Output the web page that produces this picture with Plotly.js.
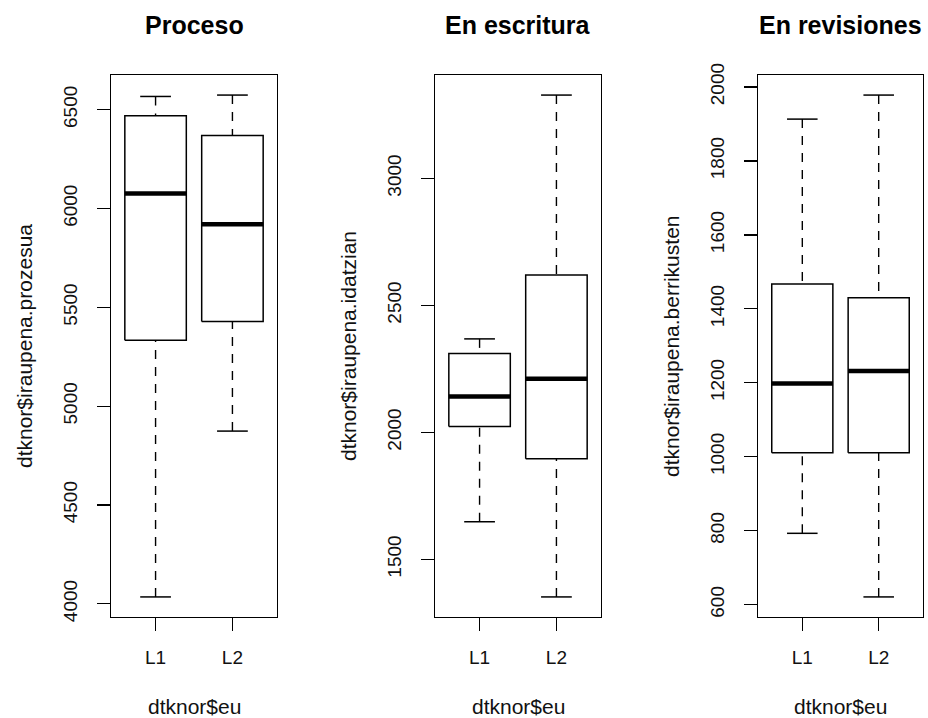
<!DOCTYPE html>
<html>
<head>
<meta charset="utf-8">
<script src="https://cdn.plot.ly/plotly-3.0.1.min.js"></script>
<style>html,body{margin:0;padding:0;background:#fff;}</style>
</head>
<body>
<div id="chart" style="width:928px;height:718px;"></div>
<script>
// ---- data ----
const groups = ["L1", "L2"];
const panelTitles = ["Proceso", "En escritura", "En revisiones"];
const yLabels = ["dtknor$iraupena.prozesua", "dtknor$iraupena.idatzian", "dtknor$iraupena.berrikusten"];
const xLabel = "dtknor$eu";

// five-number summaries per panel: [L1, L2]
const lowWhisker = [[4035, 4874], [1648, 1352], [793, 621]];
const q1Values   = [[5334, 5428], [2023, 1896], [1011, 1011]];
const medians    = [[6076, 5921], [2141, 2211], [1198, 1232]];
const q3Values   = [[6469, 6370], [2310, 2620], [1467, 1430]];
const highWhisker= [[6567, 6574], [2368, 3328], [1913, 1978]];

const yTicks = [
  [4000, 4500, 5000, 5500, 6000, 6500],
  [1500, 2000, 2500, 3000],
  [600, 800, 1000, 1200, 1400, 1600, 1800, 2000]
];

// ---- layout geometry ----
const W = 928, H = 718;
const frames = [[111, 277], [435, 601], [758, 923]];
const frameTop = 75, frameBottom = 617;
const FONT = "Liberation Sans, Arial, sans-serif";
const half = 0.4, staple = 0.2;

const traces = [];
const layout = {
  width: W, height: H,
  margin: {l: 0, r: 0, t: 0, b: 0},
  paper_bgcolor: "#fff", plot_bgcolor: "#fff",
  showlegend: false,
  annotations: [],
  font: {family: FONT, color: "#000"}
};

for (let p = 0; p < 3; p++) {
  const sfx = p === 0 ? "" : String(p + 1);
  const xa = "x" + sfx, ya = "y" + sfx;
  const bx = [], by = [], mx = [], my = [], wx = [], wy = [];
  groups.forEach((g, j) => {
    const c = j + 1;
    const lo = lowWhisker[p][j], a = q1Values[p][j], m = medians[p][j], b = q3Values[p][j], hi = highWhisker[p][j];
    // box
    bx.push(c - half, c + half, c + half, c - half, c - half, null);
    by.push(a, a, b, b, a, null);
    // staples
    bx.push(c - staple, c + staple, null, c - staple, c + staple, null);
    by.push(hi, hi, null, lo, lo, null);
    // median
    mx.push(c - half, c + half, null);
    my.push(m, m, null);
    // whiskers (from ends toward box)
    wx.push(c, c, null, c, c, null);
    wy.push(hi, b, null, lo, a, null);
  });
  traces.push({x: wx, y: wy, xaxis: xa, yaxis: ya, type: "scatter", mode: "lines",
    line: {color: "#000", width: 1.4, dash: "9px,8px"}, hoverinfo: "skip"});
  traces.push({x: bx, y: by, xaxis: xa, yaxis: ya, type: "scatter", mode: "lines",
    line: {color: "#000", width: 1.5}, hoverinfo: "skip"});
  traces.push({x: mx, y: my, xaxis: xa, yaxis: ya, type: "scatter", mode: "lines",
    line: {color: "#000", width: 4.5}, hoverinfo: "skip"});

  // R-style 4% range expansion
  const allLo = Math.min(...lowWhisker[p]), allHi = Math.max(...highWhisker[p]);
  const R = allHi - allLo;
  const yr = [allLo - 0.04 * R, allHi + 0.04 * R];
  const xr = [0.5 - 0.08, 2.5 + 0.08];

  const dom = [frames[p][0] / W, frames[p][1] / W];
  const ydom = [(H - frameBottom) / H, (H - frameTop) / H];

  layout["xaxis" + sfx] = {
    domain: dom, anchor: ya, range: xr, fixedrange: true,
    tickmode: "array", tickvals: [1, 2], ticktext: groups,
    ticks: "outside", ticklen: 13, tickwidth: 1.3, tickcolor: "#000",
    showline: true, linecolor: "#000", linewidth: 1.3, mirror: true,
    showgrid: false, zeroline: false,
    tickfont: {family: FONT, size: 19, color: "#111"},
    ticklabelstandoff: 10
  };
  layout["yaxis" + sfx] = {
    domain: ydom, anchor: xa, range: yr, fixedrange: true,
    tickmode: "array", tickvals: yTicks[p], ticktext: yTicks[p].map(String),
    ticks: "outside", ticklen: 13, tickwidth: 1.3, tickcolor: "#000",
    showline: true, linecolor: "#000", linewidth: 1.3, mirror: true,
    showgrid: false, zeroline: false, tickangle: -90,
    tickfont: {family: FONT, size: 19, color: "#111"},
    ticklabelstandoff: 12
  };

  const cx = (frames[p][0] + frames[p][1]) / 2 / W;
  layout.annotations.push({
    text: "<b>" + panelTitles[p] + "</b>", xref: "paper", yref: "paper",
    x: cx, y: (H - 25) / H, xanchor: "center", yanchor: "middle", showarrow: false,
    font: {family: FONT, size: 25, color: "#000"}
  });
  layout.annotations.push({
    text: xLabel, xref: "paper", yref: "paper",
    x: cx, y: (H - 706) / H, xanchor: "center", yanchor: "middle", showarrow: false,
    font: {family: FONT, size: 21, color: "#111"}
  });
  layout.annotations.push({
    text: yLabels[p], xref: "paper", yref: "paper", textangle: -90,
    x: (frames[p][0] - 87) / W, y: (H - (frameTop + frameBottom) / 2) / H,
    xanchor: "center", yanchor: "middle", showarrow: false,
    font: {family: FONT, size: 21, color: "#111"}
  });
}

Plotly.newPlot("chart", traces, layout, {staticPlot: true, displayModeBar: false});
</script>
</body>
</html>
